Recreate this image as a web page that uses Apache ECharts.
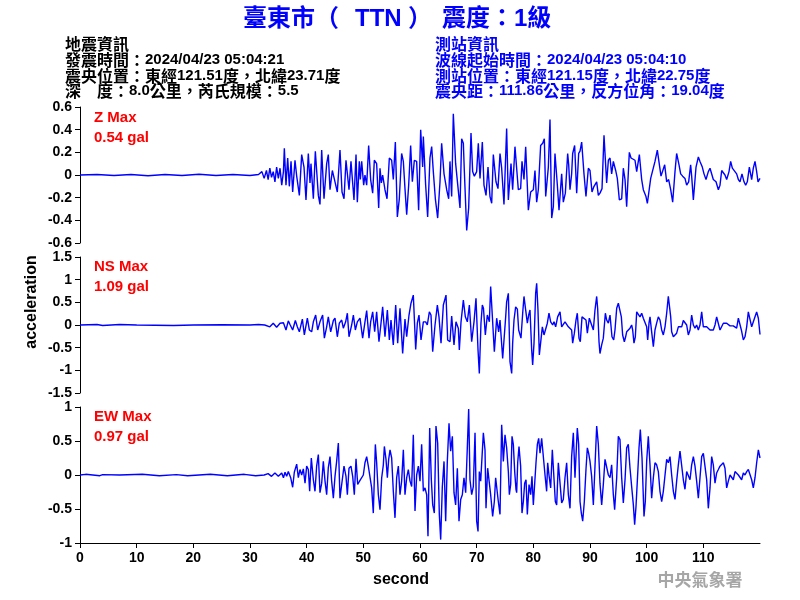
<!DOCTYPE html>
<html><head><meta charset="utf-8">
<script src="https://cdn.jsdelivr.net/npm/echarts@6/dist/echarts.min.js"></script>
<style>html,body{margin:0;padding:0;background:#fff}#c{width:800px;height:600px}</style>
</head><body><div id="c"></div>
<script>
// ---- axis / tick data ----
const xTicks = [0,10,20,30,40,50,60,70,80,90,100,110];
const zRange = [-0.6, 0.6, 0.2];
const nsRange = [-1.5, 1.5, 0.5];
const ewRange = [-1, 1, 0.5];
const panelLabels = [["Z Max","0.54 gal"],["NS Max","1.09 gal"],["EW Max","0.97 gal"]];

// ---- series data: [second, acceleration(gal)] ----
const zData = [
[0,0],[3,0.005],[6,-0.005],[9,0.004],[12,-0.006],[15,0.005],[18,-0.004],[21,0.006],[24,-0.005],[27,0.004],[30,-0.005],[31.5,0.005],
[32.1,0.03],[32.5,-0.03],[32.9,0.04],[33.2,-0.04],[33.5,0.06],[33.8,-0.02],[34.1,0.03],[34.4,-0.06],[34.7,0.07],[35.0,-0.03],[35.3,0.06],[35.6,-0.09],[35.9,0.03],
[36.06,0.235],[36.35,-0.09],[36.65,0.15],[36.94,-0.10],[37.24,0.12],[37.53,-0.15],[37.94,0.13],[38.24,-0.01],[38.71,-0.18],[39.12,0.18],[39.53,0.07],[39.88,-0.22],[40.29,0.19],[40.59,-0.07],[40.76,0.10],[41.18,-0.21],[41.53,0.21],[42.06,-0.18],[42.35,-0.26],[42.65,0.22],[43.06,-0.21],[43.53,0.10],[43.82,0.18],[44.12,-0.13],[44.53,0.04],[45.0,-0.06],[45.41,-0.15],[45.88,0.22],[46.24,-0.15],[46.59,-0.21],[46.94,0.13],[47.47,-0.13],[47.82,0.12],[48.35,-0.22],[48.71,0.18],[48.94,-0.24],[49.29,0.12],[49.47,-0.04],[49.71,0.12],[50.06,-0.09],[50.29,0],[50.59,-0.09],[50.94,0.26],[51.29,-0.04],[51.65,-0.16],[51.94,0.13],[52.35,0.10],[52.71,-0.29],[52.94,0.06],[53.18,-0.07],[53.41,0],[53.82,-0.13],[54.18,-0.21],[54.59,0.15],[55.0,0.13],[55.29,-0.04],[55.65,0.29],[56.0,-0.37],[56.35,-0.21],[56.76,0.19],[57.06,0.12],[57.35,-0.12],[57.65,-0.35],[58.0,-0.09],[58.35,0.26],[58.65,-0.06],[59.0,0.13],[59.41,0.12],[59.76,-0.31],[60.12,0.40],[60.47,0.07],[60.59,0.34],[61.0,-0.09],[61.35,-0.37],[61.76,0.15],[62.06,0.25],[62.35,0.03],[62.71,-0.21],[63.12,-0.38],[63.53,-0.06],[63.82,0.28],[64.24,0.01],[64.71,-0.13],[65.06,-0.21],[65.29,0.12],[65.59,-0.19],[65.88,0.54],[66.29,0.10],[66.59,0.09],[67.06,-0.29],[67.35,0.32],[67.65,0.28],[67.82,0.04],[68.24,-0.49],[68.59,-0.29],[69.0,0.37],[69.29,0.03],[69.59,-0.01],[70.0,0.03],[70.29,0.28],[70.59,-0.03],[71.0,0.29],[71.29,-0.09],[71.65,-0.18],[72.0,0.07],[72.35,-0.19],[72.65,-0.25],[72.94,0.18],[73.41,-0.06],[73.76,-0.12],[74.12,0.19],[74.41,0.06],[74.82,-0.26],[75.29,0.41],[75.59,-0.22],
[76.06,0.10],[76.35,-0.13],[76.76,0.25],[77.06,0.26],[77.35,-0.13],[77.76,-0.12],[78.0,0.12],[78.35,-0.04],[78.65,0.25],[79.12,-0.31],[79.53,-0.15],[80.0,-0.13],[80.29,0.04],[80.59,-0.24],[80.88,-0.13],[81.29,0.26],[81.65,0.28],[81.94,0.32],[82.18,-0.19],[82.65,0.07],[82.94,0.49],[83.24,-0.38],[83.53,-0.28],[83.82,0.19],[84.24,-0.09],[84.53,-0.31],[85.0,0.01],[85.29,-0.24],[85.65,-0.16],[86.06,0.19],[86.24,0.09],[86.47,-0.13],[86.76,0.01],[86.94,0.19],[87.29,0.26],[87.65,-0.16],[88.0,0.19],[88.24,0.21],[88.53,0.29],[88.94,0.01],[89.29,-0.19],[89.71,0.06],[90.0,0.04],[90.35,-0.15],[90.71,-0.10],[91.18,-0.06],[91.47,-0.18],[91.76,-0.16],[92.12,-0.12],[92.47,0.35],[92.94,-0.07],[93.24,0.13],[93.53,0.15],[93.82,0.01],[94.12,0.12],[94.53,0.04],[94.82,-0.03],[95.18,-0.22],[95.59,-0.21],[95.88,0.06],[96.18,-0.04],[96.47,-0.28],[96.94,0.20],[97.24,0.15],[97.53,0.16],[97.94,0.13],[98.24,0.03],[98.71,0.18],[99.12,-0.04],[99.41,-0.13],[99.88,-0.19],[100.12,-0.25],[100.47,-0.12],[100.71,-0.03],[101.06,-0.03],[101.47,0.12],[101.88,0.22],[102.18,0.21],[102.53,-0.01],[102.82,0],[103.18,0.09],[103.53,-0.06],[103.88,-0.04],[104.24,-0.13],[104.59,-0.24],[105.0,0.03],[105.29,0.19],[105.71,0.09],[106.0,0.01],[106.35,-0.01],[106.76,-0.03],[107.06,-0.09],[107.41,-0.06],[107.76,0.09],[107.94,-0.01],[108.24,-0.22],[108.71,0.07],[109.12,0.16],[109.41,0.12],[109.82,0.07],[110.12,0.01],[110.47,-0.04],[110.88,0.03],[111.18,0.06],[111.53,0.07],[111.76,-0.04],[112.24,-0.06],[112.65,-0.13],[112.94,-0.09],[113.24,0.04],[113.53,0.03],[113.82,0],[114.12,-0.04],[114.53,0.03],[114.82,0.12],[115.12,0.06],[115.47,0.06],[115.88,0.01],[116.18,-0.04],[116.47,-0.06],[116.82,0.01],[117.18,-0.06],[117.47,-0.09],[117.76,-0.06],[118.12,0.07],[118.53,-0.04],[118.82,0.06],[119.12,0.12],[119.41,0.03],[119.65,-0.06],[120.0,-0.03]
];

const nsData = [
[0,0],[3,0.01],[4,-0.01],[7,0.01],[10,0],[16.5,-0.01],[20,0],[25,0.005],[30,0],[31.5,0.01],[32.6,0],
[32.9,0.02],[33.5,-0.04],[34.1,0.04],[34.7,-0.05],[35.3,0.04],[35.9,0.05],[36.35,-0.11],[36.76,0.09],[37.1,0],[37.53,-0.11],[38.0,0.10],[38.35,-0.04],[38.71,-0.15],[39.24,0.13],[39.59,-0.22],[40.12,0.15],[40.47,-0.11],[40.88,-0.15],[41.18,0.07],[41.59,0.22],[41.94,-0.11],[42.35,0.07],[42.82,0.22],[43.12,-0.29],[43.53,-0.04],[43.82,0.18],[44.24,-0.15],[44.71,0.10],[45.0,0.15],[45.41,-0.26],[45.76,0.04],[46.18,0.11],[46.47,-0.07],[46.88,0.07],[47.18,0.26],[47.47,-0.26],[47.94,0],[48.24,0.22],[48.59,-0.11],[48.94,0.07],[49.41,0.15],[49.88,-0.29],[50.29,0.07],[50.59,0.32],[51.0,-0.29],[51.29,0.07],[51.65,0.29],[52.0,-0.15],[52.35,0.29],[52.76,-0.37],[53.12,0.04],[53.41,0.40],[53.82,-0.26],[54.24,0.33],[54.59,-0.33],[54.88,0.11],[55.29,-0.44],[55.71,0.44],[56.06,-0.40],[56.47,0.37],[56.94,-0.63],[57.35,0.13],[57.65,-0.26],[58.06,0.22],[58.41,0.48],[58.82,0.66],[59.24,-0.54],[59.53,0.04],[59.82,0.22],[60.18,-0.33],[60.59,0.07],[61.0,0.07],[61.29,0],[61.65,0.29],[61.94,0.22],[62.24,-0.59],[62.65,0],[63.06,0.44],[63.35,0.18],[63.71,-0.40],[64.12,0.44],[64.59,0.66],[64.88,-0.33],[65.29,-0.37],[65.59,0.20],[66.0,-0.44],[66.35,0.07],[66.76,-0.07],[66.94,-0.55],[67.24,0.07],[67.65,0.55],[68.0,0.18],[68.35,0.07],[68.71,0.44],[69.12,-0.37],[69.53,0.07],[69.88,0.59],[70.24,-0.55],[70.47,-1.07],[70.76,0.04],[71.0,0.44],[71.2,0.37],[71.53,-0.22],[71.88,0.22],[72.24,0.07],[72.47,0.85],[72.76,0.88],[73.12,-0.59],[73.53,0.15],[73.88,-0.15],[74.12,0.11],[74.3,-0.22],[74.59,-0.74],[74.82,-0.77],[75.12,0.18],[75.29,0.51],[75.59,0.70],[75.88,-0.81],[76.18,-1.07],[76.35,-0.40],[76.59,0.11],[76.88,0.40],[77.18,0.35],[77.41,-0.11],[77.82,-0.29],[78.12,0.26],[78.35,0.63],[78.65,0.33],[78.94,0.04],[79.18,0.22],[79.41,0.33],[79.71,-0.55],[79.88,-0.88],[80.12,-0.40],[80.41,0.70],[80.59,0.92],[80.82,0.33],[81.06,-0.66],[81.29,-0.63],[81.59,-0.04],[81.88,-0.22],[82.18,-0.26],[82.47,0.04],[82.76,0.26],[83.06,0.07],[83.41,0],[83.65,0.07],[83.94,-0.04],[84.29,0.18],[84.71,0.29],[85.0,-0.04],[85.29,0],[85.59,0.07],[85.88,0.07],[86.18,-0.04],[86.47,0],[86.76,-0.11],[86.94,-0.40],[87.24,-0.18],[87.53,0.11],[87.76,0.26],[88.06,-0.29],[88.29,-0.37],[88.59,0.18],[88.94,0.15],[89.29,0.11],[89.53,-0.18],[89.88,0.15],[90.18,0.18],[90.59,-0.11],[90.88,0.33],[91.18,0.63],[91.35,0.37],[91.59,-0.37],[91.76,-0.63],[92.06,-0.44],[92.35,-0.29],[92.71,0.26],[92.94,0.11],[93.24,0.04],[93.53,0.22],[93.88,-0.26],[94.18,-0.33],[94.41,-0.11],[94.71,0.37],[95.0,0.48],[95.29,0.51],[95.53,0.18],[95.76,-0.22],[96.06,-0.37],[96.29,-0.26],[96.47,-0.15],[96.76,-0.15],[97.06,-0.07],[97.35,0],[97.53,-0.11],[97.76,-0.40],[98.0,-0.26],[98.24,0.29],[98.53,0.26],[98.82,0.18],[99.12,0.26],[99.41,0.15],[99.76,0.11],[100.0,-0.04],[100.18,-0.33],[100.41,0.04],[100.59,0.18],[100.88,-0.15],[101.18,-0.48],[101.47,-0.11],[101.76,0.04],[102.06,0.18],[102.35,0.11],[102.65,-0.11],[102.94,-0.22],[103.24,-0.04],[103.53,0.26],[103.82,0.63],[104.0,0.59],[104.24,0.18],[104.41,-0.15],[104.71,-0.26],[105.0,-0.26],[105.29,-0.18],[105.59,-0.04],[105.88,-0.07],[106.18,-0.04],[106.47,0.10],[106.76,0.07],[107.06,0],[107.35,-0.22],[107.65,-0.11],[107.94,0.22],[108.24,0],[108.53,-0.07],[108.82,0],[109.12,-0.11],[109.41,0],[109.71,0.29],[110.0,-0.04],[110.29,0],[110.59,-0.04],[110.88,-0.04],[111.18,-0.11],[111.47,-0.07],[111.76,-0.11],[112.06,0],[112.35,0.18],[112.65,0.22],[112.94,-0.11],[113.24,-0.07],[113.53,0.04],[113.82,0.07],[114.12,0.04],[114.41,0],[114.71,-0.02],[115.0,0],[115.29,-0.02],[115.59,-0.04],[115.88,-0.07],[116.18,0.15],[116.47,0.15],[116.71,-0.11],[117.06,-0.33],[117.35,-0.26],[117.65,-0.04],[117.94,0.29],[118.24,0.29],[118.53,-0.04],[118.82,-0.07],[119.12,0.18],[119.41,0.29],[119.71,0.15],[120.0,-0.21]
];

const ewData = [
[0,0],[1,0.01],[3.5,-0.01],[4,0.005],[7,0],[11,0.01],[14,-0.01],[17,0.005],[19,-0.01],[23,0.01],[26,-0.01],[29,0.01],[31,-0.01],[32.5,0],
[33.2,0.02],[33.8,-0.02],[34.4,0.03],[35.0,-0.02],[35.6,0.03],[35.9,-0.04],[36.18,0.04],[36.47,-0.02],[36.76,0.05],[37.18,-0.04],[37.53,-0.18],[37.82,0.04],[38.24,0.16],[38.53,-0.04],[38.82,0.08],[39.12,0],[39.41,0.09],[39.71,-0.12],[40.0,0.13],[40.29,0.08],[40.53,-0.24],[40.82,0.25],[41.18,-0.07],[41.47,-0.24],[41.76,0.13],[42.06,0.30],[42.35,-0.26],[42.65,-0.12],[42.94,0.20],[43.24,-0.09],[43.53,-0.29],[43.82,0.11],[44.12,0.27],[44.41,-0.09],[44.71,-0.34],[45.0,-0.02],[45.29,0.20],[45.59,0.47],[45.88,-0.34],[46.18,-0.14],[46.59,0.13],[46.94,-0.02],[47.18,-0.29],[47.47,0.10],[47.82,0.13],[48.12,-0.02],[48.41,-0.29],[48.71,0.24],[49.0,-0.14],[49.41,-0.08],[49.71,-0.09],[50.0,0],[50.29,0.18],[50.59,0.27],[50.88,0.13],[51.18,0.15],[51.47,-0.19],[51.76,-0.56],[52.12,0.45],[52.35,0.18],[52.65,-0.29],[52.94,-0.51],[53.24,-0.04],[53.53,0.15],[53.71,0.42],[54.0,0.23],[54.24,-0.04],[54.47,0.23],[54.71,0.37],[55.0,0.25],[55.29,-0.24],[55.59,-0.63],[55.88,-0.04],[56.18,0.13],[56.47,-0.29],[56.76,-0.09],[57.06,0.37],[57.35,-0.29],[57.65,-0.04],[57.94,0.08],[58.24,-0.09],[58.53,-0.17],[58.82,0.59],[59.12,-0.53],[59.41,0],[59.71,0.13],[60.0,-0.09],[60.29,0.45],[60.59,-0.24],[60.88,-0.19],[61.18,-0.29],[61.41,-0.90],[61.71,0.69],[62.0,-0.07],[62.24,-0.44],[62.53,-0.56],[62.82,0.72],[63.12,0.47],[63.41,-0.58],[63.65,-0.95],[63.94,-0.17],[64.24,0.20],[64.53,-0.68],[64.82,0.20],[65.12,0.76],[65.41,0.35],[65.71,0.57],[66.0,-0.26],[66.29,-0.44],[66.59,0.10],[66.88,-0.68],[67.18,-0.36],[67.47,-0.29],[67.76,-0.04],[68.06,-0.26],[68.35,0.40],[68.59,0.97],[68.82,-0.07],[69.12,-0.29],[69.41,-0.17],[69.71,0.62],[70.0,-0.68],[70.24,-0.83],[70.47,0.05],[70.71,-0.09],[70.94,-0.09],[71.18,0.62],[71.47,0.37],[71.65,-0.49],[71.94,0.10],[72.24,0.08],[72.47,-0.29],[72.82,-0.61],[73.12,-0.39],[73.35,-0.04],[73.53,-0.02],[73.82,-0.39],[74.12,-0.58],[74.41,0.74],[74.71,0.20],[75.0,0.59],[75.29,0.40],[75.59,0.05],[75.77,-0.29],[76.0,-0.14],
[76.24,0.57],[76.47,0.45],[76.71,0.05],[76.94,-0.21],[77.06,-0.26],[77.24,0.18],[77.47,0.42],[77.76,0.13],[78.0,-0.56],[78.24,-0.39],[78.47,-0.12],[78.71,-0.07],[78.94,-0.58],[79.24,-0.14],[79.53,-0.29],[79.76,-0.02],[80.0,-0.44],[80.24,-0.44],[80.47,0.18],[80.71,0.45],[80.94,0.54],[81.18,0.32],[81.47,0.54],[81.76,0.54],[82.06,0],[82.35,-0.24],[82.53,0.18],[82.76,0],[83.06,-0.19],[83.35,0.37],[83.65,0.35],[83.88,-0.39],[84.12,-0.44],[84.41,0.18],[84.71,0.20],[85.0,-0.41],[85.29,-0.36],[85.59,-0.04],[85.88,0.18],[86.18,-0.29],[86.47,-0.49],[86.76,0.27],[87.06,0.62],[87.35,-0.04],[87.76,0.69],[88.0,0.45],[88.24,-0.39],[88.47,-0.56],[88.71,-0.68],[89.0,-0.39],[89.29,0.08],[89.53,0.40],[89.76,0.32],[90.0,0.20],[90.29,-0.02],[90.59,-0.44],[90.88,0.13],[91.18,0.72],[91.47,0.45],[91.76,-0.12],[92.06,-0.44],[92.35,-0.14],[92.65,0.23],[92.94,0.25],[93.24,0],[93.53,-0.04],[93.82,0.15],[94.12,-0.29],[94.35,-0.51],[94.71,-0.04],[95.0,0.57],[95.29,0.52],[95.59,-0.04],[95.88,-0.41],[96.18,-0.07],[96.47,0.40],[96.76,0.45],[97.06,0.10],[97.35,-0.17],[97.65,-0.44],[97.88,-0.73],[98.12,-0.46],[98.35,-0.09],[98.65,0.40],[98.88,0.67],[99.18,0.25],[99.53,-0.61],[99.76,-0.39],[100.0,0.20],[100.29,0.57],[100.59,0.15],[100.88,-0.34],[101.18,-0.04],[101.47,0.18],[101.76,0.15],[102.06,0.05],[102.35,-0.24],[102.65,-0.39],[102.94,-0.24],[103.24,0],[103.53,0.23],[103.82,0.18],[104.12,0.27],[104.41,0],[104.71,-0.24],[105.0,-0.36],[105.29,-0.09],[105.59,0.15],[105.88,0.35],[106.18,0.37],[106.47,-0.07],[106.76,-0.21],[107.06,0.05],[107.35,0.03],[107.65,-0.07],[107.94,0.15],[108.24,0.27],[108.53,0.13],[108.82,-0.09],[109.12,-0.34],[109.41,-0.04],[109.71,0.27],[110.0,0.32],[110.29,0.13],[110.59,-0.07],[110.88,-0.49],[111.18,-0.19],[111.47,0.27],[111.76,0.15],[112.06,-0.12],[112.35,0.03],[112.65,0.08],[112.94,0.13],[113.24,0.15],[113.53,0.18],[113.82,0.10],[114.12,-0.19],[114.41,-0.09],[114.71,0],[115.0,-0.02],[115.29,-0.07],[115.59,0.05],[115.88,0.03],[116.18,0],[116.47,-0.02],[116.76,-0.07],[117.06,0.03],[117.35,0],[117.65,0.05],[117.94,0.08],[118.24,0.08],[118.53,-0.07],[118.82,-0.19],[119.12,-0.04],[119.41,0.18],[119.71,0.37],[120.0,0.25]
];

// ---- texts ----
const titleParts = ["臺東市","（","TTN","）","震度：1級"];
const leftInfo = ["地震資訊","發震時間：2024/04/23 05:04:21","震央位置：東經121.51度，北緯23.71度","深　度：8.0公里，芮氏規模：5.5"];
const rightInfo = ["測站資訊","波線起始時間：2024/04/23 05:04:10","測站位置：東經121.15度，北緯22.75度","震央距：111.86公里，反方位角：19.04度"];

const FONT = '"Liberation Sans", Arial, "Noto Sans CJK TC", sans-serif';
const CJK = '"Noto Sans CJK TC", sans-serif';
const chart = echarts.init(document.getElementById('c'), null, {renderer:'canvas'});
const tops = [107, 257, 407];
const ranges = [zRange, nsRange, ewRange];
const datas = [zData, nsData, ewData];

const grids = tops.map(t => ({left:80, top:t, width:680, height:136, containLabel:false}));
const xAxes = tops.map((t,i) => ({
  type:'value', gridIndex:i, min:0, max:120, show: i===2,
  axisLine:{show:true, onZero:false, lineStyle:{color:'#000', width:1}},
  axisTick:{show:true, length:5, customValues:xTicks, lineStyle:{color:'#000'}},
  axisLabel:{show:true, customValues:xTicks, margin:8, color:'#000', fontWeight:'bold', fontSize:14, fontFamily:FONT},
  splitLine:{show:false}
}));
const yAxes = ranges.map((r,i) => ({
  type:'value', gridIndex:i, min:r[0], max:r[1], interval:r[2],
  axisLine:{show:true, onZero:false, lineStyle:{color:'#000', width:1}},
  axisTick:{show:true, length:5, lineStyle:{color:'#000'}},
  axisLabel:{margin:8, color:'#000', fontWeight:'bold', fontSize:14, fontFamily:FONT,
    formatter: v => String(Math.round(v*10)/10)},
  splitLine:{show:false}
}));
const series = datas.map((d,i) => ({
  type:'line', xAxisIndex:i, yAxisIndex:i, data:d, showSymbol:false, symbol:'none',
  lineStyle:{color:'#0000FF', width:1.4}, animation:false, silent:true
}));

// mixed text: CJK glyphs in CJK font, ASCII runs in bold Latin
function mixed(s){ return s.replace(/([\x20-\x7e]+)/g, '{n|$1}'); }

const graphics = [];
const titleX = [243, 315, 355, 408, 442];
titleParts.forEach((s,i) => graphics.push({type:'text', left:titleX[i], top:7,
  style:{text:s, font:'bold 24px '+FONT, fill:'#0000FF'}}));
const lineY = [43.5, 59.5, 75.5, 91];
function infoText(s, x, y, color){
  return {type:'text', x:x, y:y, style:{text:mixed(s), font:'bold 16px '+CJK, fill:color,
    verticalAlign:'middle', align:'left',
    rich:{n:{font:'bold 15px '+FONT, fill:color, verticalAlign:'middle'}}}};
}
leftInfo.forEach((s,i) => graphics.push(infoText(s, 65, lineY[i], '#000')));
rightInfo.forEach((s,i) => graphics.push(infoText(s, 435, lineY[i], '#0000FF')));
const redY = [[118,138],[267,287],[417,437]];
panelLabels.forEach((p,i) => {
  graphics.push({type:'text', x:94, y:redY[i][0], style:{text:p[0], font:'bold 15px '+FONT, fill:'#FF0000', verticalAlign:'middle'}});
  graphics.push({type:'text', x:94, y:redY[i][1], style:{text:p[1], font:'bold 15px '+FONT, fill:'#FF0000', verticalAlign:'middle'}});
});
graphics.push({type:'text', x:32, y:302, rotation:Math.PI/2,
  style:{text:'acceleration', font:'bold 16px '+FONT, fill:'#000', align:'center', verticalAlign:'middle'}});
graphics.push({type:'text', x:401, y:580,
  style:{text:'second', font:'bold 16px '+FONT, fill:'#000', align:'center', verticalAlign:'middle'}});
graphics.push({type:'text', x:700, y:580,
  style:{text:'中央氣象署', font:'bold 17px '+CJK, fill:'#a6a6a6', align:'center', verticalAlign:'middle'}});

chart.setOption({
  backgroundColor:'#fff', animation:false,
  grid:grids, xAxis:xAxes, yAxis:yAxes, series:series, graphic:graphics
});
</script></body></html>
